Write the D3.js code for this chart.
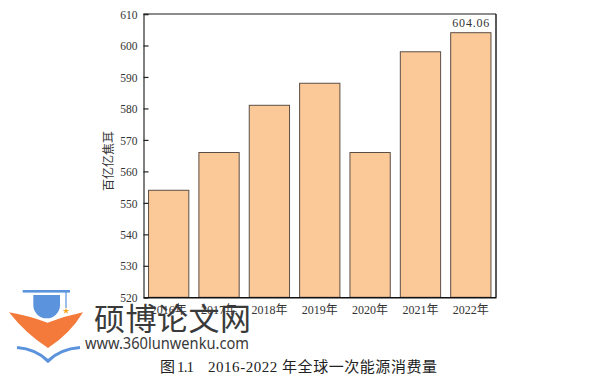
<!DOCTYPE html>
<html><head><meta charset="utf-8">
<script src="https://cdn.jsdelivr.net/npm/d3@7"></script>
<style>html,body{margin:0;padding:0;background:#fff;}svg{display:block;}</style>
</head><body>
<script>
const categories = ["2016年","2017年","2018年","2019年","2020年","2021年","2022年"];
const values = [554, 566, 581, 588, 566, 598, 604.06];
const yTicks = [520,530,540,550,560,570,580,590,600,610];
const labelIndex = 6;
const labelText = "604.06";
const yTitle = "百亿亿焦耳";
const captionA = "图 1.1";
const captionB = "2016-2022 年全球一次能源消费量";
const wmTitle = "硕博论文网";
const wmUrl = "www.360lunwenku.com";

const W = 596, H = 380;
const m = {left:143.5, right:496, top:14, bottom:297.3};
const serif = "'Liberation Serif','Times New Roman','Noto Sans CJK SC',serif";
const cjk = "'Noto Sans CJK SC',sans-serif";

const svg = d3.select("body").append("svg").attr("width",W).attr("height",H);

const x = d3.scaleBand().domain(categories).range([m.left,m.right]).paddingInner(0.2).paddingOuter(0.1);
const y = d3.scaleLinear().domain([520,610]).range([m.bottom,m.top]);

// bars
svg.append("g").selectAll("rect").data(values).join("rect")
  .attr("x",(d,i)=>x(categories[i]))
  .attr("y",d=>y(d))
  .attr("width",x.bandwidth())
  .attr("height",d=>y(520)-y(d))
  .attr("fill","#fbc898").attr("stroke","#5c4e45").attr("stroke-width",1);

// frame
svg.append("line").attr("x1",m.left).attr("x2",m.right).attr("y1",m.top).attr("y2",m.top).attr("stroke","#666").attr("stroke-width",1.5);
svg.append("line").attr("x1",m.right).attr("x2",m.right).attr("y1",m.top).attr("y2",m.bottom).attr("stroke","#222").attr("stroke-width",1.5);

// y axis
const yAxis = svg.append("g").attr("transform",`translate(${m.left},0)`)
  .call(d3.axisLeft(y).tickValues(yTicks).tickSize(-5).tickPadding(6).tickFormat(d3.format("d")));
yAxis.select(".domain").attr("stroke","#555").attr("stroke-width",1.5);
yAxis.selectAll(".tick line").attr("stroke","#222").attr("stroke-width",1.2);
yAxis.selectAll("text").attr("font-family",serif).attr("font-size",11.5).attr("fill","#333").attr("dy","0.36em");

// x axis
const xAxis = svg.append("g").attr("transform",`translate(0,${m.bottom})`)
  .call(d3.axisBottom(x).tickSize(0).tickPadding(8));
xAxis.select(".domain").attr("stroke","#111").attr("stroke-width",1.5);
xAxis.selectAll("text").attr("font-family",serif).attr("font-size",12).attr("fill","#333").attr("dy","0.75em");

// value label
svg.append("text").attr("x",x(categories[labelIndex])+x.bandwidth()/2).attr("y",y(values[labelIndex])-6)
  .attr("text-anchor","middle").attr("font-family",serif).attr("font-size",12).attr("fill","#333")
  .attr("textLength",37).attr("lengthAdjust","spacing").text(labelText);

// y title
svg.append("text").attr("transform","translate(113,161) rotate(-90)").attr("text-anchor","middle")
  .attr("font-family",cjk).attr("font-size",12).attr("fill","#333").text(yTitle);

// caption
svg.append("text").attr("x",160).attr("y",371.5).attr("font-family",serif).attr("font-size",15).attr("fill","#222")
  .attr("textLength",34).attr("lengthAdjust","spacing").attr("xml:space","preserve").text(captionA);
svg.append("text").attr("x",208).attr("y",371.5).attr("font-family",serif).attr("font-size",15).attr("fill","#222")
  .attr("textLength",229).attr("lengthAdjust","spacing").text(captionB);

// watermark logo
const logo = svg.append("g");
const blue = "#5b93dd", orange = "#f47a3c";
logo.append("rect").attr("x",22.7).attr("y",290).attr("width",47.3).attr("height",2.6).attr("fill",blue);
logo.append("path").attr("d","M33.3,295 L60,295 L60,305 A13.35,13.35 0 0 1 33.3,305 Z").attr("fill",blue);
logo.append("line").attr("x1",66).attr("x2",66).attr("y1",292).attr("y2",308).attr("stroke",blue).attr("stroke-width",1.2);
logo.append("path").attr("d",d3.symbol(d3.symbolStar,14)()).attr("transform","translate(66,311)").attr("fill","#f5a623");
logo.append("path").attr("d","M9,312.3 Q30,316 47.5,322.7 Q65,316 83,312.3 Q70,334 48,348 Q26,334 9,312.3 Z").attr("fill",orange);
logo.append("path").attr("d","M17,347.5 Q36,349 48,361 Q60,349 80,347.5").attr("fill","none").attr("stroke",blue).attr("stroke-width",3.2);

// watermark text
svg.append("text").attr("x",94).attr("y",330).attr("font-family",cjk).attr("font-size",31).attr("fill","#3a3a3a")
  .attr("textLength",157).attr("lengthAdjust","spacing").text(wmTitle);
svg.append("text").attr("x",85).attr("y",349).attr("font-family","'Noto Sans','Open Sans',sans-serif").attr("font-size",16).attr("fill","#3a3a3a")
  .attr("textLength",164).attr("lengthAdjust","spacingAndGlyphs").text(wmUrl);
</script>
</body></html>
